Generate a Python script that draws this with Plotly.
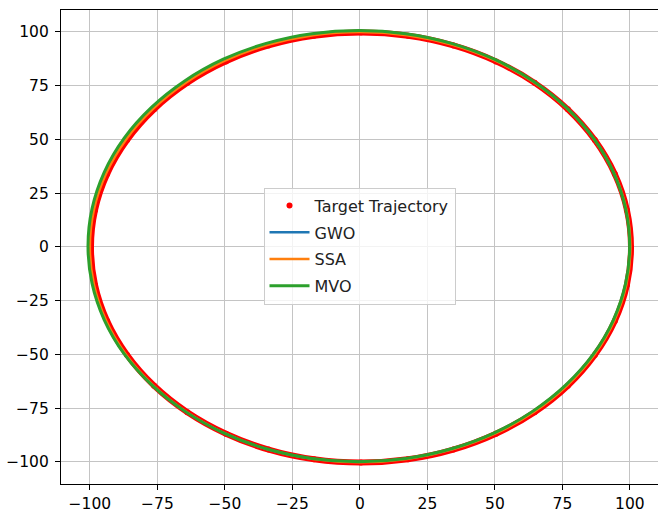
import plotly.graph_objects as go

target_x = [100.4, 98.9, 94.4, 87.0, 77.0, 64.7, 50.4, 34.6, 17.8, 0.4, -17.0, -33.8, -49.6, -63.9, -76.2, -86.2, -93.6, -98.1, -99.6,
            -98.1, -93.6, -86.2, -76.2, -63.9, -49.6, -33.8, -17.0, 0.4, 17.8, 34.6, 50.4, 64.7, 77.0, 87.0, 94.4, 98.9, 100.4]
target_y = [-0.3, 17.1, 33.9, 49.7, 64.0, 76.3, 86.3, 93.7, 98.2, 99.7, 98.2, 93.7, 86.3, 76.3, 64.0, 49.7, 33.9, 17.1, -0.3,
            -17.7, -34.5, -50.3, -64.6, -76.9, -86.9, -94.3, -98.8, -100.3, -98.8, -94.3, -86.9, -76.9, -64.6, -50.3, -34.5, -17.7, -0.3]

gwo_x = [100.0, 98.5, 94.0, 86.6, 76.6, 64.2, 49.9, 34.1, 17.2, -0.2, -17.6, -34.5, -50.3, -64.6, -76.9, -87.0, -94.4, -98.9, -100.4,
         -98.9, -94.4, -87.0, -76.9, -64.6, -50.3, -34.5, -17.6, -0.2, 17.2, 34.1, 49.9, 64.2, 76.6, 86.6, 94.0, 98.5, 100.0]
gwo_y = [0.2, 17.6, 34.5, 50.3, 64.6, 76.9, 87.0, 94.4, 98.9, 100.4, 98.9, 94.4, 87.0, 76.9, 64.6, 50.3, 34.5, 17.6, 0.2,
         -17.2, -34.1, -49.9, -64.2, -76.6, -86.6, -94.0, -98.5, -100.0, -98.5, -94.0, -86.6, -76.6, -64.2, -49.9, -34.1, -17.2, 0.2]

ssa_x = [100.2, 98.7, 94.2, 86.8, 76.8, 64.4, 50.2, 34.3, 17.5, 0.1, -17.3, -34.1, -50.0, -64.2, -76.6, -86.6, -94.0, -98.5, -100.0,
         -98.5, -94.0, -86.6, -76.6, -64.2, -50.0, -34.1, -17.3, 0.1, 17.5, 34.3, 50.2, 64.4, 76.8, 86.8, 94.2, 98.7, 100.2]
ssa_y = [-0.1, 17.3, 34.1, 50.0, 64.2, 76.6, 86.6, 94.0, 98.5, 100.0, 98.5, 94.0, 86.6, 76.6, 64.2, 50.0, 34.1, 17.3, -0.1,
         -17.5, -34.3, -50.2, -64.4, -76.8, -86.8, -94.2, -98.7, -100.2, -98.7, -94.2, -86.8, -76.8, -64.4, -50.2, -34.3, -17.5, -0.1]

mvo_x = [99.9, 98.4, 93.9, 86.5, 76.4, 64.1, 49.8, 33.9, 17.0, -0.4, -17.8, -34.7, -50.6, -64.9, -77.2, -87.3, -94.7, -99.2, -100.7,
         -99.2, -94.7, -87.3, -77.2, -64.9, -50.6, -34.7, -17.8, -0.4, 17.0, 33.9, 49.8, 64.1, 76.4, 86.5, 93.9, 98.4, 99.9]
mvo_y = [0.4, 17.8, 34.7, 50.6, 64.9, 77.2, 87.3, 94.7, 99.2, 100.7, 99.2, 94.7, 87.3, 77.2, 64.9, 50.6, 34.7, 17.8, 0.4,
         -17.0, -33.9, -49.8, -64.1, -76.4, -86.5, -93.9, -98.4, -99.9, -98.4, -93.9, -86.5, -76.4, -64.1, -49.8, -33.9, -17.0, 0.4]

tick_vals = [-100, -75, -50, -25, 0, 25, 50, 75, 100]
tick_text = ["\u2212100", "\u221275", "\u221250", "\u221225", "0", "25", "50", "75", "100"]

FONT = "DejaVu Sans"

fig = go.Figure()
fig.add_trace(go.Scatter(x=target_x, y=target_y, mode="markers", name="Target Trajectory",
                         marker=dict(color="#ff0000", size=6), legendgroup="a"))
fig.add_trace(go.Scatter(x=target_x, y=target_y, mode="lines", showlegend=False,
                         line=dict(color="#ff0000", width=6, shape="spline"), hoverinfo="skip"))
fig.add_trace(go.Scatter(x=gwo_x, y=gwo_y, mode="lines", name="GWO",
                         line=dict(color="#1f77b4", width=2.5, shape="spline"), legendgroup="b"))
fig.add_trace(go.Scatter(x=ssa_x, y=ssa_y, mode="lines", name="SSA",
                         line=dict(color="#ff7f0e", width=2.5, shape="spline"), legendgroup="c"))
fig.add_trace(go.Scatter(x=mvo_x, y=mvo_y, mode="lines", name="MVO",
                         line=dict(color="#2ca02c", width=3, shape="spline"), legendgroup="d"))

axis_common = dict(
    tickvals=tick_vals, ticktext=tick_text,
    showgrid=True, gridcolor="#c4c4c4", gridwidth=1.2,
    zeroline=False, showline=True, linecolor="black", linewidth=1.2,
    ticks="outside", ticklen=5, tickwidth=1.2, tickcolor="black",
    tickfont=dict(family=FONT, size=15.5, color="black"),
    automargin=False,
)

fig.update_layout(
    width=658, height=516,
    margin=dict(l=61, r=0, t=10, b=32),
    paper_bgcolor="white", plot_bgcolor="white",
    font=dict(family=FONT, size=15, color="black"),
    xaxis=dict(range=[-110.7, 110.4], mirror=True, **axis_common),
    yaxis=dict(range=[-110.3, 110.2], ticklabelstandoff=3, **axis_common),
    legend=dict(x=0.5, y=0.502, xanchor="center", yanchor="middle",
                bgcolor="rgba(255,255,255,0.8)", bordercolor="#cccccc", borderwidth=1,
                font=dict(family=FONT, size=16, color="#222222"),
                tracegroupgap=3, itemwidth=40),
    showlegend=True,
)

fig.write_html("out.html", config={"displayModeBar": False},
               post_script="document.body.style.margin='0';document.body.style.padding='0';")
